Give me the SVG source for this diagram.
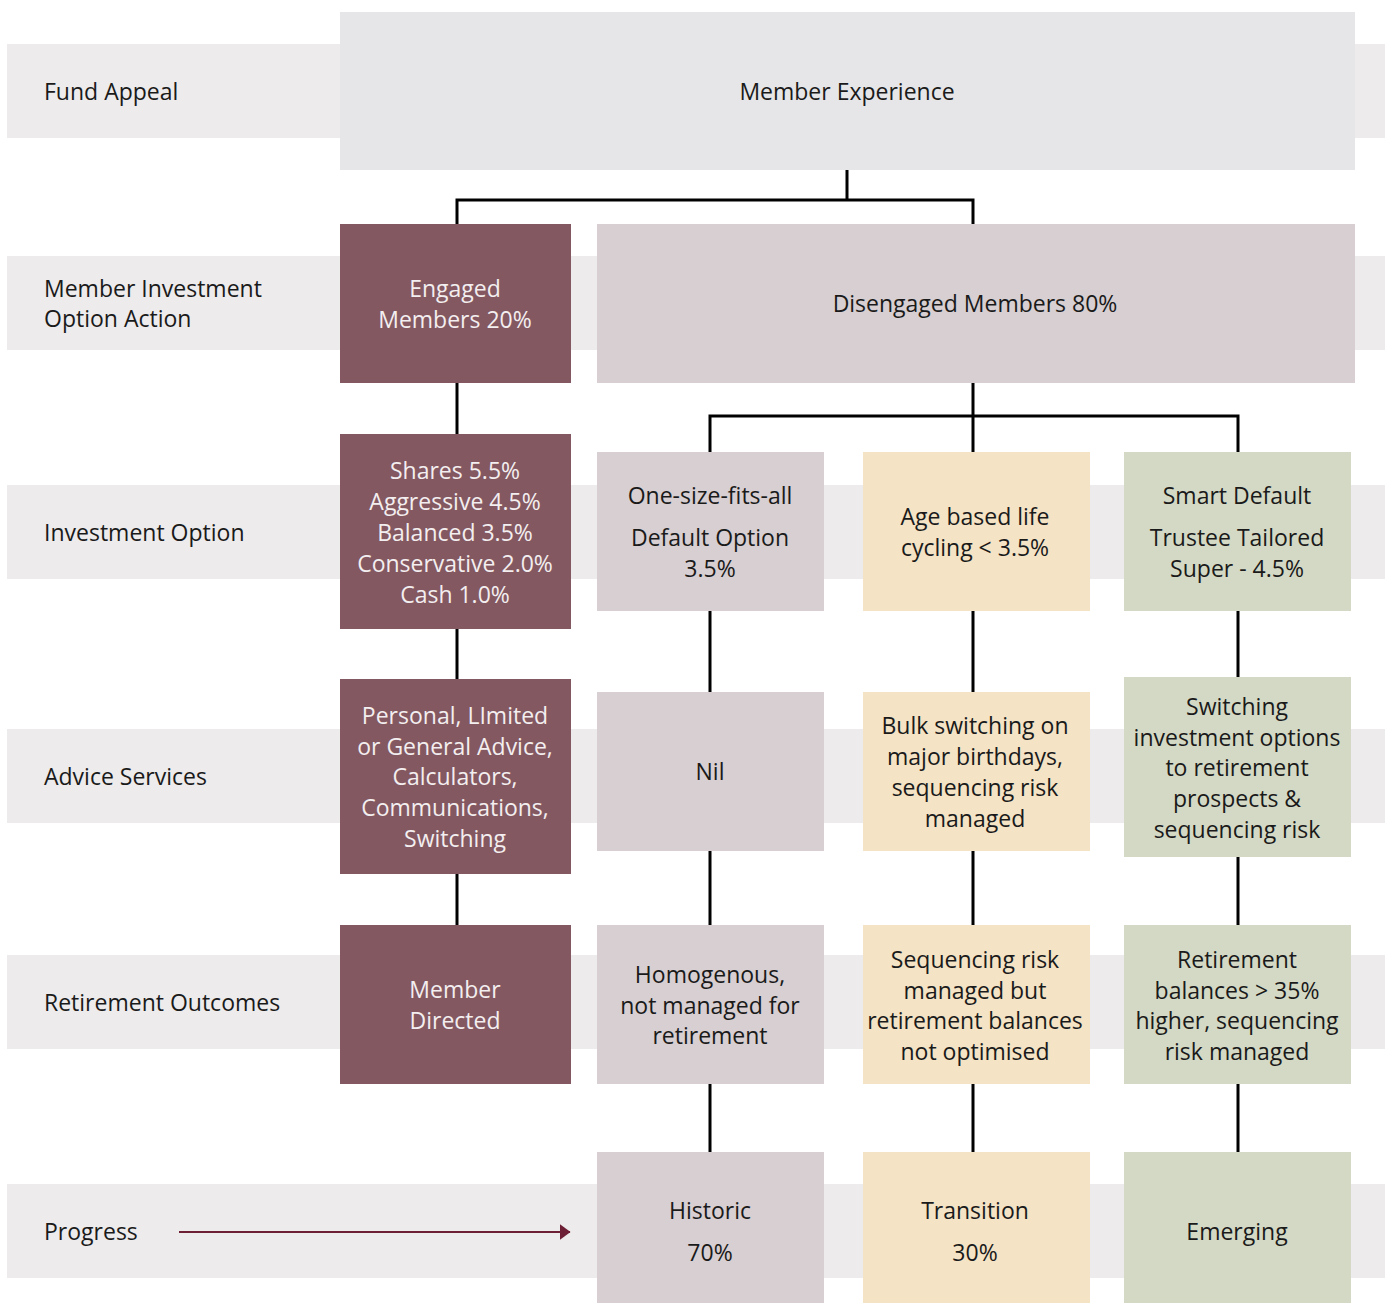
<svg xmlns="http://www.w3.org/2000/svg" width="1391" height="1303" viewBox="0 0 1391 1303">
<defs>
<style>
.band{fill:#edebec}
.t{font-family:"Open Sans","Noto Sans",sans-serif;font-size:23px;fill:#1a1a1a;text-anchor:middle;dominant-baseline:central}
.l{font-family:"Open Sans","Noto Sans",sans-serif;font-size:23px;fill:#1a1a1a;dominant-baseline:central}
.w{fill:#f3eeef}
.m{fill:#835861}
.g{fill:#d7cfd1}
.y{fill:#f4e3c5}
.s{fill:#d4d9c5}
.c{fill:none;stroke:#000;stroke-width:3}
</style>
<marker id="ah" viewBox="0 0 11 16" refX="10.5" refY="8" markerWidth="11" markerHeight="16" markerUnits="userSpaceOnUse" orient="auto">
<path d="M0,0 L11,8 L0,16 z" fill="#6d1f35"/>
</marker>
</defs>
<rect width="1391" height="1303" fill="#fff"/>
<g id="bands">
<rect class="band" x="7" y="44" width="1378" height="94"/>
<rect class="band" x="7" y="256" width="1378" height="94"/>
<rect class="band" x="7" y="485" width="1378" height="94"/>
<rect class="band" x="7" y="729" width="1378" height="94"/>
<rect class="band" x="7" y="955" width="1378" height="94"/>
<rect class="band" x="7" y="1184" width="1378" height="94"/>
</g>
<g id="row-labels">
<text class="l" x="44" y="91">Fund Appeal</text>
<text class="l" x="44" y="288">Member Investment</text>
<text class="l" x="44" y="318">Option Action</text>
<text class="l" x="44" y="532">Investment Option</text>
<text class="l" x="44" y="776">Advice Services</text>
<text class="l" x="44" y="1002">Retirement Outcomes</text>
<text class="l" x="44" y="1231">Progress</text>
</g>
<g id="connectors">
<path class="c" d="M847,170 V200 M457,224 V200 H973 V224"/>
<path class="c" d="M457,383 V434"/>
<path class="c" d="M973,383 V416 M710,452 V416 H1238 V452 M973,416 V452"/>
<path class="c" d="M457,629 V679 M710,611 V692 M973,611 V692 M1238,611 V677"/>
<path class="c" d="M457,874 V925 M710,851 V925 M973,851 V925 M1238,857 V925"/>
<path class="c" d="M710,1084 V1152 M973,1084 V1152 M1238,1084 V1152"/>
<line x1="179" y1="1232" x2="570" y2="1232" stroke="#6d1f35" stroke-width="2" marker-end="url(#ah)"/>
</g>
<g id="member-experience">
<rect x="340" y="12" width="1015" height="158" fill="#e6e6e8"/>
<text class="t" x="847" y="91">Member Experience</text>
</g>
<g id="engaged">
<rect class="m" x="340" y="224" width="231" height="159"/>
<text class="t w" x="455" y="288">Engaged</text>
<text class="t w" x="455" y="319">Members 20%</text>
</g>
<g id="disengaged">
<rect class="g" x="597" y="224" width="758" height="159"/>
<text class="t" x="975" y="303">Disengaged Members 80%</text>
</g>
<g id="engaged-options">
<rect class="m" x="340" y="434" width="231" height="195"/>
<text class="t w" x="455" y="470">Shares 5.5%</text>
<text class="t w" x="455" y="501">Aggressive 4.5%</text>
<text class="t w" x="455" y="532">Balanced 3.5%</text>
<text class="t w" x="455" y="563">Conservative 2.0%</text>
<text class="t w" x="455" y="594">Cash 1.0%</text>
</g>
<g id="one-size">
<rect class="g" x="597" y="452" width="227" height="159"/>
<text class="t" x="710" y="495">One-size-fits-all</text>
<text class="t" x="710" y="537">Default Option</text>
<text class="t" x="710" y="568">3.5%</text>
</g>
<g id="age-based">
<rect class="y" x="863" y="452" width="227" height="159"/>
<text class="t" x="975" y="516">Age based life</text>
<text class="t" x="975" y="547">cycling &lt; 3.5%</text>
</g>
<g id="smart-default">
<rect class="s" x="1124" y="452" width="227" height="159"/>
<text class="t" x="1237" y="495">Smart Default</text>
<text class="t" x="1237" y="537">Trustee Tailored</text>
<text class="t" x="1237" y="568">Super - 4.5%</text>
</g>
<g id="engaged-advice">
<rect class="m" x="340" y="679" width="231" height="195"/>
<text class="t w" x="455" y="715">Personal, LImited</text>
<text class="t w" x="455" y="746">or General Advice,</text>
<text class="t w" x="455" y="776">Calculators,</text>
<text class="t w" x="455" y="807">Communications,</text>
<text class="t w" x="455" y="838">Switching</text>
</g>
<g id="nil">
<rect class="g" x="597" y="692" width="227" height="159"/>
<text class="t" x="710" y="771">Nil</text>
</g>
<g id="bulk">
<rect class="y" x="863" y="692" width="227" height="159"/>
<text class="t" x="975" y="725">Bulk switching on</text>
<text class="t" x="975" y="756">major birthdays,</text>
<text class="t" x="975" y="787">sequencing risk</text>
<text class="t" x="975" y="818">managed</text>
</g>
<g id="switching">
<rect class="s" x="1124" y="677" width="227" height="180"/>
<text class="t" x="1237" y="706">Switching</text>
<text class="t" x="1237" y="737">investment options</text>
<text class="t" x="1237" y="767">to retirement</text>
<text class="t" x="1237" y="798">prospects &amp;</text>
<text class="t" x="1237" y="829">sequencing risk</text>
</g>
<g id="member-directed">
<rect class="m" x="340" y="925" width="231" height="159"/>
<text class="t w" x="455" y="989">Member</text>
<text class="t w" x="455" y="1020">Directed</text>
</g>
<g id="homogenous">
<rect class="g" x="597" y="925" width="227" height="159"/>
<text class="t" x="710" y="974">Homogenous,</text>
<text class="t" x="710" y="1005">not managed for</text>
<text class="t" x="710" y="1035">retirement</text>
</g>
<g id="sequencing">
<rect class="y" x="863" y="925" width="227" height="159"/>
<text class="t" x="975" y="959">Sequencing risk</text>
<text class="t" x="975" y="990">managed but</text>
<text class="t" x="975" y="1020">retirement balances</text>
<text class="t" x="975" y="1051">not optimised</text>
</g>
<g id="retirement-balances">
<rect class="s" x="1124" y="925" width="227" height="159"/>
<text class="t" x="1237" y="959">Retirement</text>
<text class="t" x="1237" y="990">balances &gt; 35%</text>
<text class="t" x="1237" y="1020">higher, sequencing</text>
<text class="t" x="1237" y="1051">risk managed</text>
</g>
<g id="historic">
<rect class="g" x="597" y="1152" width="227" height="151"/>
<text class="t" x="710" y="1210">Historic</text>
<text class="t" x="710" y="1252">70%</text>
</g>
<g id="transition">
<rect class="y" x="863" y="1152" width="227" height="151"/>
<text class="t" x="975" y="1210">Transition</text>
<text class="t" x="975" y="1252">30%</text>
</g>
<g id="emerging">
<rect class="s" x="1124" y="1152" width="227" height="151"/>
<text class="t" x="1237" y="1231">Emerging</text>
</g>
</svg>
